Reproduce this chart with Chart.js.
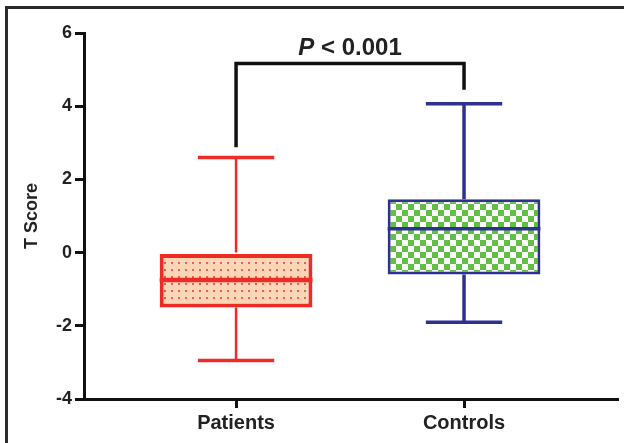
<!DOCTYPE html>
<html>
<head>
<meta charset="utf-8">
<script src="https://cdn.jsdelivr.net/npm/chart.js@4.4.1/dist/chart.umd.min.js"></script>
<style>
  html, body { margin: 0; padding: 0; background: #fff; }
  #wrap { position: relative; width: 624px; height: 443px; overflow: hidden; }
  #frame { position: absolute; left: 5px; top: 6px; width: 640px; height: 460px;
           border-top: 3px solid #2b2b2b; border-left: 3px solid #2b2b2b; }
  #chart { position: absolute; left: 0; top: 0; }
</style>
</head>
<body>
<div id="wrap">
  <div id="frame"></div>
  <canvas id="chart" width="624" height="443"></canvas>
</div>
<script>
const categories = ["Patients", "Controls"];
const mins = [-2.95, -1.9];
const q1s = [-1.5, -0.6];
const medians = [-0.75, 0.65];
const q3s = [0, 1.46];
const maxs = [2.6, 4.07];
const yTicks = [-4, -2, 0, 2, 4, 6];

// significance bracket
const pLabel = "P < 0.001";
const bracketTop = 5.17;
const bracketLegEnds = [2.88, 4.45];

const lineColors = ["#ee2b24", "#2e3192"];

const fontFam = "'Liberation Sans', Arial, Helvetica, sans-serif";

function dotPattern() {
  let c = document.createElement("canvas");
  c.width = 7; c.height = 7;
  let g = c.getContext("2d");
  g.fillStyle = "#fdd6b8";
  g.fillRect(0, 0, 7, 7);
  g.fillStyle = "#ef5f52";
  g.fillRect(3, 3, 2, 2);
  return g.createPattern(c, "repeat");
}

function checkPattern() {
  let c = document.createElement("canvas");
  c.width = 12; c.height = 12;
  let g = c.getContext("2d");
  g.fillStyle = "#ffffff";
  g.fillRect(0, 0, 12, 12);
  g.fillStyle = "#60bf44";
  g.fillRect(0, 0, 6, 6);
  g.fillRect(6, 6, 6, 6);
  return g.createPattern(c, "repeat");
}

const boxExtras = {
  id: "boxExtras",
  afterDatasetsDraw(chart) {
    const { ctx, scales: { x, y } } = chart;
    const meta = chart.getDatasetMeta(0);
    ctx.save();
    ctx.lineCap = "butt";
    categories.forEach((c, i) => {
      const cx = x.getPixelForValue(i + 1);
      const half = meta.data[i].width / 4;
      ctx.strokeStyle = lineColors[i];
      // whiskers
      ctx.lineWidth = i === 0 ? 2.5 : 3.5;
      ctx.beginPath();
      ctx.moveTo(cx, y.getPixelForValue(q3s[i]));
      ctx.lineTo(cx, y.getPixelForValue(maxs[i]));
      ctx.moveTo(cx, y.getPixelForValue(q1s[i]));
      ctx.lineTo(cx, y.getPixelForValue(mins[i]));
      ctx.stroke();
      // caps
      ctx.lineWidth = 3.5;
      ctx.beginPath();
      ctx.moveTo(cx - half, y.getPixelForValue(maxs[i]));
      ctx.lineTo(cx + half, y.getPixelForValue(maxs[i]));
      ctx.moveTo(cx - half, y.getPixelForValue(mins[i]));
      ctx.lineTo(cx + half, y.getPixelForValue(mins[i]));
      ctx.stroke();
      // median
      const bw = meta.data[i].width / 2;
      ctx.lineWidth = i === 0 ? 4.5 : 3.5;
      ctx.beginPath();
      ctx.moveTo(cx - bw, y.getPixelForValue(medians[i]));
      ctx.lineTo(cx + bw, y.getPixelForValue(medians[i]));
      ctx.stroke();
    });

    // bracket
    const xl = x.getPixelForValue(1), xr = x.getPixelForValue(2);
    const yt = y.getPixelForValue(bracketTop);
    ctx.strokeStyle = "#111";
    ctx.lineWidth = 3.5;
    ctx.lineJoin = "miter";
    ctx.beginPath();
    ctx.moveTo(xl, y.getPixelForValue(bracketLegEnds[0]));
    ctx.lineTo(xl, yt);
    ctx.lineTo(xr, yt);
    ctx.lineTo(xr, y.getPixelForValue(bracketLegEnds[1]));
    ctx.stroke();

    // p value text
    const fItal = "italic bold 24px " + fontFam;
    const fBold = "bold 24px " + fontFam;
    ctx.font = fItal;
    const w1 = ctx.measureText("P").width;
    ctx.font = fBold;
    const rest = pLabel.slice(1);
    const w2 = ctx.measureText(rest).width;
    let tx = (xl + xr) / 2 - (w1 + w2) / 2;
    const ty = yt - 8;
    ctx.fillStyle = "#222";
    ctx.textBaseline = "alphabetic";
    ctx.textAlign = "left";
    ctx.font = fItal;
    ctx.fillText("P", tx, ty);
    ctx.font = fBold;
    ctx.fillText(rest, tx + w1, ty);
    ctx.restore();
  }
};

const ctx = document.getElementById("chart");

new Chart(ctx, {
  type: "bar",
  data: {
    datasets: [{
      data: categories.map((c, i) => ({ x: i + 1, y: [q1s[i], q3s[i]] })),
      backgroundColor: [dotPattern(), checkPattern()],
      borderColor: lineColors,
      borderWidth: [4, 3],
      borderSkipped: false,
      barPercentage: 0.67,
      categoryPercentage: 1
    }]
  },
  options: {
    responsive: false,
    devicePixelRatio: 1,
    animation: false,
    layout: { padding: { top: 33, right: 7, left: 0, bottom: 0 } },
    plugins: { legend: { display: false }, tooltip: { enabled: false } },
    scales: {
      x: {
        type: "linear",
        min: 0.333,
        max: 2.671,
        offset: false,
        afterBuildTicks: s => { s.ticks = categories.map((c, i) => ({ value: i + 1 })); },
        afterFit: s => { s.height = 44; },
        ticks: {
          autoSkip: false,
          maxRotation: 0,
          padding: 3,
          color: "#222",
          font: { family: fontFam, size: 20, weight: "bold" },
          callback: v => categories[Math.round(v) - 1]
        },
        grid: { offset: false, drawOnChartArea: false, tickLength: 9, tickWidth: 3, lineWidth: 3, tickColor: "#111" },
        border: { color: "#111", width: 3 }
      },
      y: {
        min: -4,
        max: 6,
        afterBuildTicks: s => { s.ticks = yTicks.map(v => ({ value: v })); },
        afterFit: s => { s.width = 84; },
        ticks: {
          padding: 3,
          color: "#222",
          font: { family: fontFam, size: 18, weight: "bold" }
        },
        grid: { drawOnChartArea: false, tickLength: 9, tickWidth: 3, lineWidth: 3, tickColor: "#111" },
        border: { color: "#111", width: 3 },
        title: {
          display: true,
          text: "T Score",
          color: "#222",
          padding: { top: 21, bottom: 0 },
          font: { family: fontFam, size: 18, weight: "bold" }
        }
      }
    }
  },
  plugins: [boxExtras]
});
</script>
</body>
</html>
